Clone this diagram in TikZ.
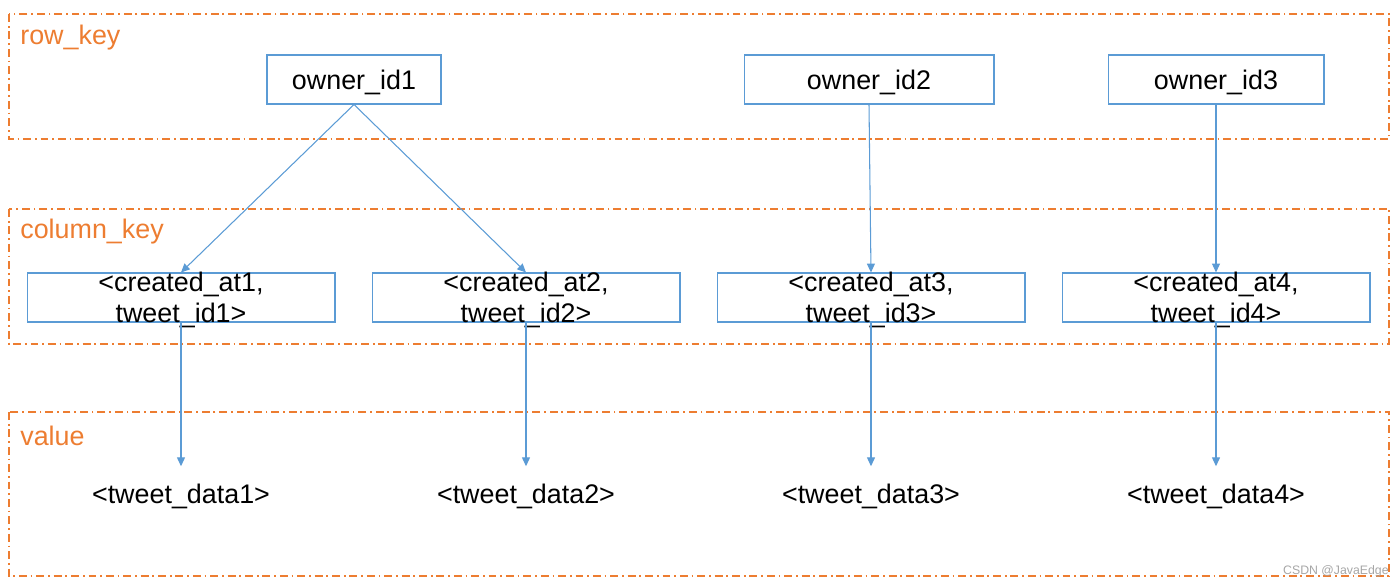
\documentclass[tikz,border=0pt]{standalone}
\usepackage{fontspec}
\setmainfont{Liberation Sans}
\usepackage{xcolor}
\usetikzlibrary{arrows.meta}
\definecolor{lineblue}{HTML}{5B9BD5}
\definecolor{zoneorange}{HTML}{ED7D31}

\begin{document}
\begin{tikzpicture}[x=0.02cm, y=-0.02cm,
  zone/.style={draw=zoneorange, line width=0.75pt,
    dash pattern=on 4.5pt off 2.2pt on 1pt off 2.2pt},
  zonelabel/.style={anchor=west, inner sep=0pt, text=zoneorange,
    font=\fontsize{15.3}{18}\selectfont},
  keybox/.style={draw=lineblue, line width=0.6pt, inner sep=0pt,
    minimum height=0.98cm},
  keytext/.style={align=center, inner sep=0pt,
    font=\fontsize{15.3}{17.6}\selectfont},
  link/.style={draw=lineblue, line width=0.6pt,
    -{Triangle[length=5pt, width=4.5pt]}}]
\useasboundingbox (0,0) rectangle (1400,584);

% zones
\draw[zone] (9,14) rectangle (1389,139);
\draw[zone] (9,209) rectangle (1389,344);
\draw[zone] (9,412) rectangle (1389,576);
\node[zonelabel] (rowlbl) at (20,38) {row\_key};
\node[zonelabel] (collbl) at (20,232) {column\_key};
\node[zonelabel] (vallbl) at (20,436) {value};

% row keys
\node[keybox, minimum width=3.48cm] (o1) at (354,79.5) {};
\node[keybox, minimum width=5cm] (o2) at (869,79.5) {};
\node[keybox, minimum width=4.32cm] (o3) at (1216,79.5) {};
\foreach \i in {1,2,3}
  \node[keytext] (o\i txt) at ([yshift=-0.05cm]o\i) {owner\_id\i};

% column keys and values
\foreach \i/\x in {1/181, 2/526, 3/871, 4/1216} {
  \node[keybox, minimum width=6.16cm] (c\i) at (\x,297.5) {};
  \node[keytext] (c\i txt) at (\x,300) {<created\_at\i,\\tweet\_id\i>};
  \node[keytext] (t\i) at (\x,496) {<tweet\_data\i>};
  \draw[link] (c\i.south) -- ([yshift=0.34cm]t\i.north);
}

\draw[link] (o1.south) -- (c1.north);
\draw[link] (o1.south) -- (c2.north);
\draw[link] (o2.south) -- (c3.north);
\draw[link] (o3.south) -- (c4.north);

\node[anchor=east, inner sep=0pt, text=black!35,
  font=\fontsize{7}{8}\selectfont] (mark) at (1389,571) {CSDN @JavaEdge};
\end{tikzpicture}
\end{document}
